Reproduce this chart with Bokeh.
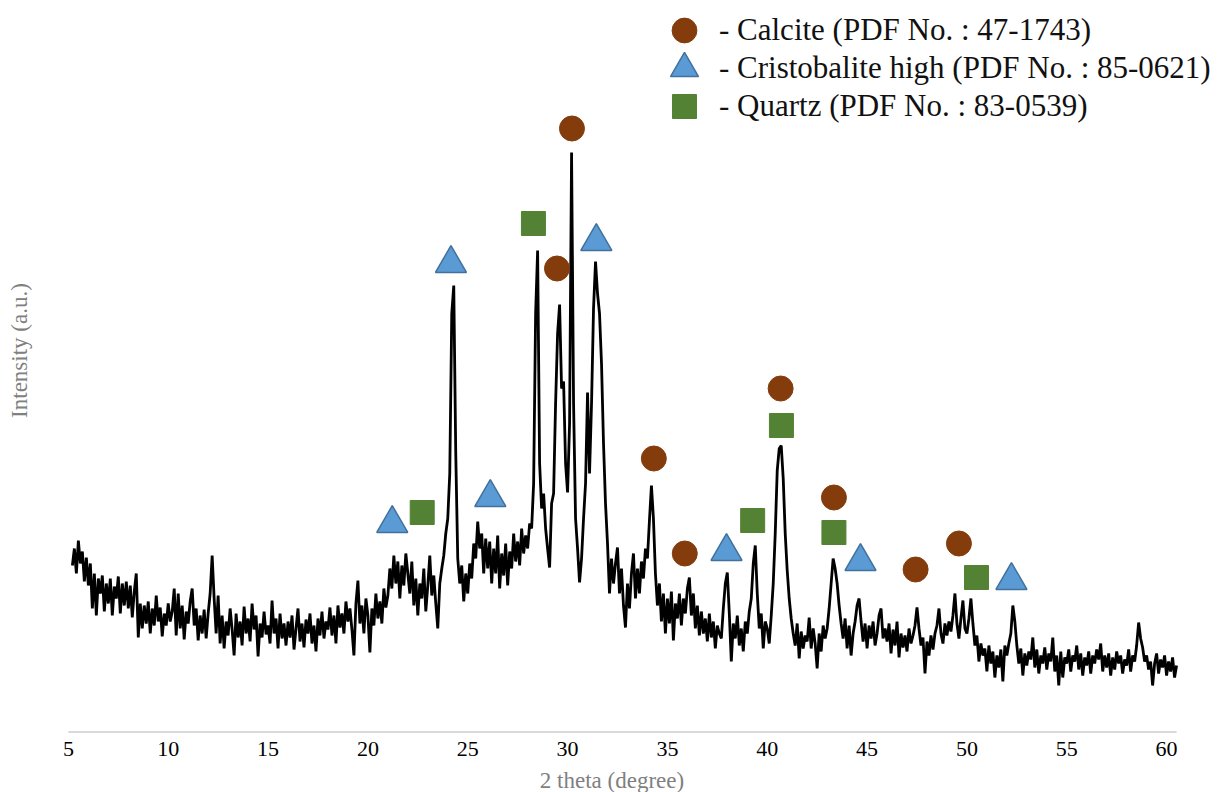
from math import pi
from bokeh.plotting import figure
from bokeh.models import Legend, LegendItem, FixedTicker, Label, Range1d
from bokeh.embed import file_html
from bokeh.resources import INLINE

# ---------------- data ----------------
scan_start = 5.2      # first 2-theta of the scan
scan_step = 0.1       # 2-theta step of the scan

# intensity (a.u.), one row per degree
intensity = [
    168, 185, 160, 193, 170, 182, 152, 176,                 # 5.2-5.9
    148, 170, 125, 160, 118, 155, 140, 158, 122, 150,       # 6
    130, 155, 118, 147, 135, 157, 120, 150, 128, 152,       # 7
    125, 148, 116, 142, 160, 96, 130, 105, 128, 110,        # 8
    132, 100, 125, 108, 138, 112, 126, 97, 120, 108,        # 9
    130, 112, 122, 145, 98, 140, 105, 128, 94, 122,         # 10
    110, 132, 145, 108, 125, 93, 118, 100, 124, 95,         # 11
    120, 140, 178, 135, 100, 138, 90, 118, 85, 112,         # 12
    98, 125, 104, 78, 120, 96, 112, 88, 127, 100,           # 13
    115, 92, 130, 104, 118, 77, 110, 96, 122, 99,           # 14
    108, 90, 133, 100, 115, 85, 120, 95, 110, 88,           # 15
    112, 96, 118, 84, 105, 125, 92, 110, 86, 114,           # 16
    100, 120, 90, 108, 82, 115, 98, 122, 95, 112,           # 17
    104, 126, 98, 118, 90, 128, 106, 120, 100, 132,         # 18
    112, 125, 104, 78, 130, 153, 110, 128, 100, 135,        # 19
    118, 81, 125, 108, 140, 115, 132, 110, 145, 126,        # 20
    138, 165, 145, 178, 150, 172, 135, 168, 148, 180,       # 21
    160, 140, 172, 128, 155, 118, 150, 135, 165, 122,       # 22
    148, 178, 138, 158, 130, 105, 150, 165, 178, 200,       # 23
    215, 260, 420, 448, 280, 175, 150, 168, 132, 160,       # 24
    140, 170, 155, 190, 175, 212, 185, 200, 160, 195,       # 25
    165, 192, 150, 185, 160, 198, 145, 180, 158, 190,       # 26
    148, 182, 165, 200, 172, 192, 168, 205, 180, 198,       # 27
    185, 210, 205, 250, 420, 483, 270, 225, 240, 205,       # 28
    185, 166, 230, 240, 330, 400, 429, 345, 352, 270,       # 29
    241, 310, 581, 330, 215, 185, 151, 175, 215, 250,       # 30
    341, 260, 330, 425, 472, 440, 420, 370, 290, 230,       # 31
    190, 140, 175, 150, 170, 186, 140, 165, 128, 106,       # 32
    150, 125, 160, 180, 135, 165, 140, 172, 155, 185,       # 33
    175, 213, 248, 215, 160, 128, 150, 112, 140, 100,       # 34
    135, 110, 142, 93, 130, 115, 140, 108, 135, 120,        # 35
    145, 156, 118, 140, 105, 128, 98, 122, 100, 115,        # 36
    92, 120, 96, 112, 85, 108, 100, 95, 125, 150,           # 37
    161, 120, 72, 110, 95, 118, 88, 105, 82, 112,           # 38
    100, 122, 135, 170, 188, 140, 105, 120, 85, 112,        # 39
    105, 90, 118, 150, 200, 263, 285, 288, 255, 200,        # 40
    163, 135, 115, 100, 88, 110, 75, 102, 85, 98,           # 41
    92, 116, 85, 105, 90, 65, 100, 82, 108, 95,             # 42
    105, 125, 150, 175, 165, 150, 128, 110, 95, 115,        # 43
    85, 108, 78, 100, 112, 128, 135, 112, 92, 110,          # 44
    85, 108, 95, 112, 88, 100, 118, 125, 95, 105,           # 45
    92, 110, 80, 104, 88, 112, 76, 100, 86, 98,             # 46
    82, 105, 90, 98, 108, 126, 105, 88, 96, 60,             # 47
    92, 78, 98, 84, 100, 108, 125, 100, 90, 110,            # 48
    98, 112, 102, 118, 140, 110, 95, 115, 133, 105,         # 49
    100, 115, 135, 110, 88, 98, 72, 90, 78, 85,             # 50
    62, 88, 70, 82, 56, 78, 66, 84, 52, 88,                 # 51
    78, 90, 100, 128, 112, 88, 70, 85, 58, 80,              # 52
    68, 82, 74, 96, 66, 84, 60, 78, 70, 86,                 # 53
    64, 80, 72, 96, 62, 78, 48, 82, 56, 76,                 # 54
    70, 84, 62, 78, 72, 88, 64, 80, 58, 76,                 # 55
    68, 82, 60, 78, 70, 84, 74, 90, 62, 78,                 # 56
    66, 80, 58, 76, 64, 82, 70, 78, 60, 74,                 # 57
    68, 84, 62, 78, 72, 88, 111, 95, 86, 72,                # 58
    78, 64, 72, 48, 70, 80, 60, 74, 66, 78,                 # 59
    58, 72, 62, 76, 56, 68,                                 # 60.0-60.5
]
two_theta = [round(scan_start + i * scan_step, 2) for i in range(len(intensity))]

# phase markers: 2-theta position and height of each symbol
calcite_2theta = [30.22, 29.47, 34.32, 35.87, 40.67, 43.34, 47.43, 49.60]
calcite_height = [605, 465, 275, 180, 345, 236, 164, 190]
cristobalite_2theta = [21.22, 24.16, 26.13, 31.44, 37.96, 44.67, 52.23]
cristobalite_height = [210, 470, 236, 492, 182, 172, 153]
quartz_2theta = [22.72, 28.29, 39.27, 40.71, 43.34, 50.48]
quartz_height = [221, 510, 213, 308, 201, 156]

phase_labels = [
    "- Calcite (PDF No. : 47-1743)",
    "- Cristobalite high (PDF No. : 85-0621)",
    "- Quartz (PDF No. : 83-0539)",
]
x_ticks = [5, 10, 15, 20, 25, 30, 35, 40, 45, 50, 55, 60]
axis_min, axis_max = 5, 60.5          # extent of the x-axis line
axis_level = 1.5                      # intensity level where the x axis sits

# ---------------- figure ----------------
SERIF = "Liberation Serif"

p = figure(width=1223, height=792,
           x_range=Range1d(1.6, 62.85), y_range=Range1d(-59, 725),
           output_backend="svg", toolbar_location=None,
           y_axis_location=None,
           min_border_left=0, min_border_right=0,
           min_border_top=8, min_border_bottom=0)
p.outline_line_color = None
p.xgrid.visible = False
p.ygrid.visible = False
p.background_fill_color = "white"
p.border_fill_color = "white"

ax = p.xaxis[0]
ax.fixed_location = axis_level
ax.ticker = FixedTicker(ticks=x_ticks)
ax.axis_line_color = None
ax.major_tick_line_color = None
ax.minor_tick_line_color = None
ax.major_tick_out = 0
ax.major_tick_in = 0
ax.major_label_standoff = 10
ax.major_label_text_font = SERIF
ax.major_label_text_font_size = "22px"
ax.major_label_text_color = "#000000"
ax.axis_label = "2 theta (degree)"
ax.axis_label_text_font = SERIF
ax.axis_label_text_font_size = "23px"
ax.axis_label_text_font_style = "normal"
ax.axis_label_text_color = "#7f7f7f"
ax.axis_label_standoff = 8

# light grey axis line spanning the axis extent
p.segment(x0=[axis_min], y0=[axis_level], x1=[axis_max], y1=[axis_level],
          line_color="#d9d9d9", line_width=2)

p.line(two_theta, intensity, line_color="black", line_width=2.8)

r_cal = p.scatter(calcite_2theta, calcite_height, marker="circle", size=25,
                  fill_color="#843C0C", line_color="#843C0C", line_width=1)
r_cri = p.scatter(cristobalite_2theta, cristobalite_height, marker="triangle", size=31,
                  fill_color="#5B9BD5", line_color="#41719C", line_width=1.5)
r_qtz = p.scatter(quartz_2theta, quartz_height, marker="square", size=24,
                  fill_color="#548235", line_color="#548235", line_width=1)

# y-axis title
p.add_layout(Label(x=19, y=442, x_units="screen", y_units="screen",
                   text="Intensity (a.u.)", angle=pi / 2,
                   text_align="center", text_baseline="middle",
                   text_font=SERIF, text_font_size="23px", text_color="#808080"))

# legend: one legend per entry so each symbol can be drawn large
legend_specs = [(r_cal, 62, 731), (r_cri, 70, 689), (r_qtz, 60, 656)]
for label, (rend, gh, ly) in zip(phase_labels, legend_specs):
    lg = Legend(items=[LegendItem(label=label, renderers=[rend])],
                location=(649, ly), orientation="vertical",
                glyph_width=70, glyph_height=gh, label_standoff=0,
                padding=0, margin=0, spacing=0,
                border_line_color=None, background_fill_alpha=0,
                label_text_font=SERIF, label_text_font_size="31px",
                label_text_color="#111111")
    p.add_layout(lg)

open("out.html", "w").write(file_html(p, INLINE))
